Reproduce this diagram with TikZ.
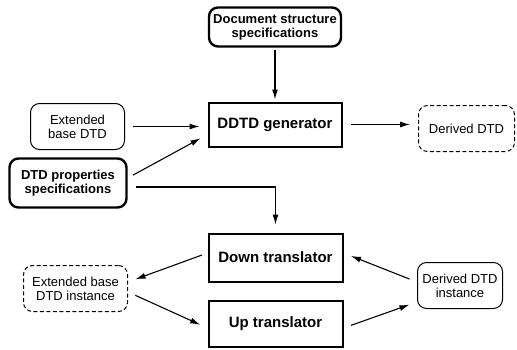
\documentclass[tikz,border=0pt]{standalone}
\usepackage{fontspec}
\setmainfont{Liberation Sans}
\usetikzlibrary{positioning,arrows.meta}

\begin{document}
\begin{tikzpicture}[
    x=1pt, y=-1pt,
    spec/.style={rectangle, draw, line width=2.4pt, rounded corners=9pt, inner sep=2pt, align=center, font=\fontsize{13}{14}\selectfont\bfseries},
    tool/.style={rectangle, draw, line width=2pt, inner sep=2pt, align=center, font=\fontsize{15}{17}\selectfont\bfseries},
    dtd/.style={rectangle, draw, line width=1pt, rounded corners=9pt, inner sep=2pt, align=center, font=\fontsize{13}{14}\selectfont},
    derived/.style={dtd, dash pattern=on 4pt off 2.5pt},
    arrow/.style={-{Latex[length=10pt,width=6pt]}, line width=1.1pt, shorten <=8pt, shorten >=8pt},
]
\useasboundingbox (0,0) rectangle (517,349);

% Boxes
\node[spec, minimum width=132pt, minimum height=39pt] (docspec) at (275,27) {Document structure\\specifications};
\node[tool, minimum width=133pt, minimum height=44pt] (gen) at (275,124.5) {DDTD generator};
\node[dtd, minimum width=94pt, minimum height=46pt] (extbase) at (77.5,126.5) {Extended\\base DTD};
\node[spec, minimum width=117pt, minimum height=49pt] (props) at (68,183) {DTD properties\\specifications};
\node[derived, minimum width=96pt, minimum height=46pt] (derived) at (466.5,128.5) {Derived DTD};
\node[tool, minimum width=134pt, minimum height=48pt] (down) at (275.5,257.5) {Down translator};
\node[tool, minimum width=134pt, minimum height=46pt] (up) at (275.5,323.5) {Up translator};
\node[derived, minimum width=104pt, minimum height=46pt] (extinst) at (75.5,288.5) {Extended base\\DTD instance};
\node[dtd, minimum width=85pt, minimum height=46pt] (derinst) at (460,285.5) {Derived DTD\\instance};

% Arrows
\draw[arrow, shorten <=2pt, shorten >=2pt] (docspec) -- (gen);
\draw[arrow] (extbase.east) -- (extbase.east -| gen.west);
\draw[arrow, shorten <=6pt] ([yshift=5pt]props.east) -- ([yshift=-10pt]gen.west);
\draw[arrow] ([yshift=-4pt]props.east) -| (down.north);
\draw[arrow] (gen.east) -- (gen.east -| derived.west);
\draw[arrow, shorten <=6pt] ([yshift=4.5pt]down.west) -- ([yshift=6.5pt]extinst.east);
\draw[arrow] ([yshift=-3.5pt]extinst.east) -- ([yshift=-4.5pt]up.west);
\draw[arrow] ([yshift=-4.5pt]up.east) -- ([yshift=-16.5pt]derinst.west);
\draw[arrow] ([yshift=3.5pt]derinst.west) -- ([yshift=4.5pt]down.east);

\end{tikzpicture}
\end{document}
